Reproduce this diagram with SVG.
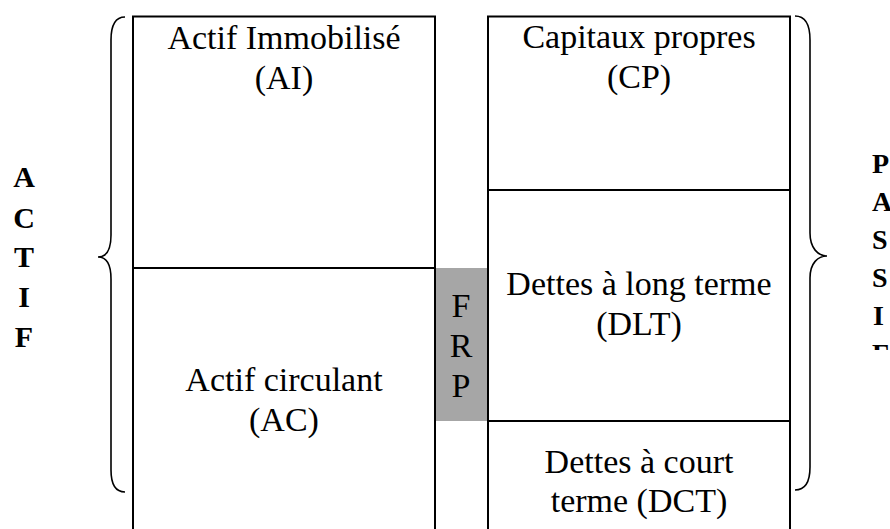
<svg xmlns="http://www.w3.org/2000/svg" width="890" height="529" viewBox="0 0 890 529">
<style>
.box{fill:none;stroke:#000;stroke-width:2}
.ln{stroke:#000;stroke-width:2}
.brace{fill:none;stroke:#000;stroke-width:1.6}
.lbl{font-family:"Liberation Serif","Times New Roman",serif;font-size:34px;fill:#000;text-anchor:middle}
.side{font-family:"Liberation Serif","Times New Roman",serif;font-weight:bold;fill:#000}
</style>
<defs>
<clipPath id="clipP"><rect x="0" y="0" width="890" height="350"/></clipPath>
</defs>
<rect width="890" height="529" fill="#fff"/>
<g id="frp">
<rect x="436" y="268" width="51" height="153" fill="#a6a6a6"/>
<text class="lbl" x="461" y="317">F</text>
<text class="lbl" x="461" y="357">R</text>
<text class="lbl" x="461" y="397">P</text>
</g>
<g id="actif-immobilise">
<path class="box" d="M133,529 V16.5 H435 V268"/>
<text class="lbl" x="284" y="49">Actif Immobilisé</text>
<text class="lbl" x="284" y="89">(AI)</text>
</g>
<g id="actif-circulant">
<path class="box" d="M133,268 H435 V529"/>
<text class="lbl" x="284" y="391">Actif circulant</text>
<text class="lbl" x="284" y="431">(AC)</text>
</g>
<g id="capitaux-propres">
<path class="box" d="M488,529 V16.5 H790 V529"/>
<text class="lbl" x="639" y="48">Capitaux propres</text>
<text class="lbl" x="639" y="88">(CP)</text>
</g>
<g id="dlt">
<line class="ln" x1="488" y1="190" x2="790" y2="190"/>
<text class="lbl" x="639" y="295">Dettes à long terme</text>
<text class="lbl" x="639" y="335">(DLT)</text>
</g>
<g id="dct">
<line class="ln" x1="488" y1="421" x2="790" y2="421"/>
<text class="lbl" x="639" y="473">Dettes à court</text>
<text class="lbl" x="639" y="512">terme (DCT)</text>
</g>
<g id="connectors">
<path class="brace" d="M125,17 C116,17 111,25 111,40 L111,235 C111,250 106,257 98,257 C106,257 111,264 111,279 L111,470 C111,485 116,492 125,492"/>
<path class="brace" d="M795,16 C805,16 810,24 810,40 L810,233 C810,248 818,256 827,256 C818,256 810,263 810,278 L810,467 C810,482 805,490 795,490"/>
</g>
<g id="actif-label" class="side" font-size="30" text-anchor="middle">
<text x="24" y="187">A</text>
<text x="24" y="228">C</text>
<text x="24" y="267">T</text>
<text x="24" y="307">I</text>
<text x="24" y="347">F</text>
</g>
<g id="passif-label" class="side" font-size="28" clip-path="url(#clipP)">
<text x="872" y="173">P</text>
<text x="872" y="211">A</text>
<text x="872" y="249">S</text>
<text x="872" y="287">S</text>
<text x="873" y="325">I</text>
<text x="872" y="363">F</text>
</g>
</svg>
